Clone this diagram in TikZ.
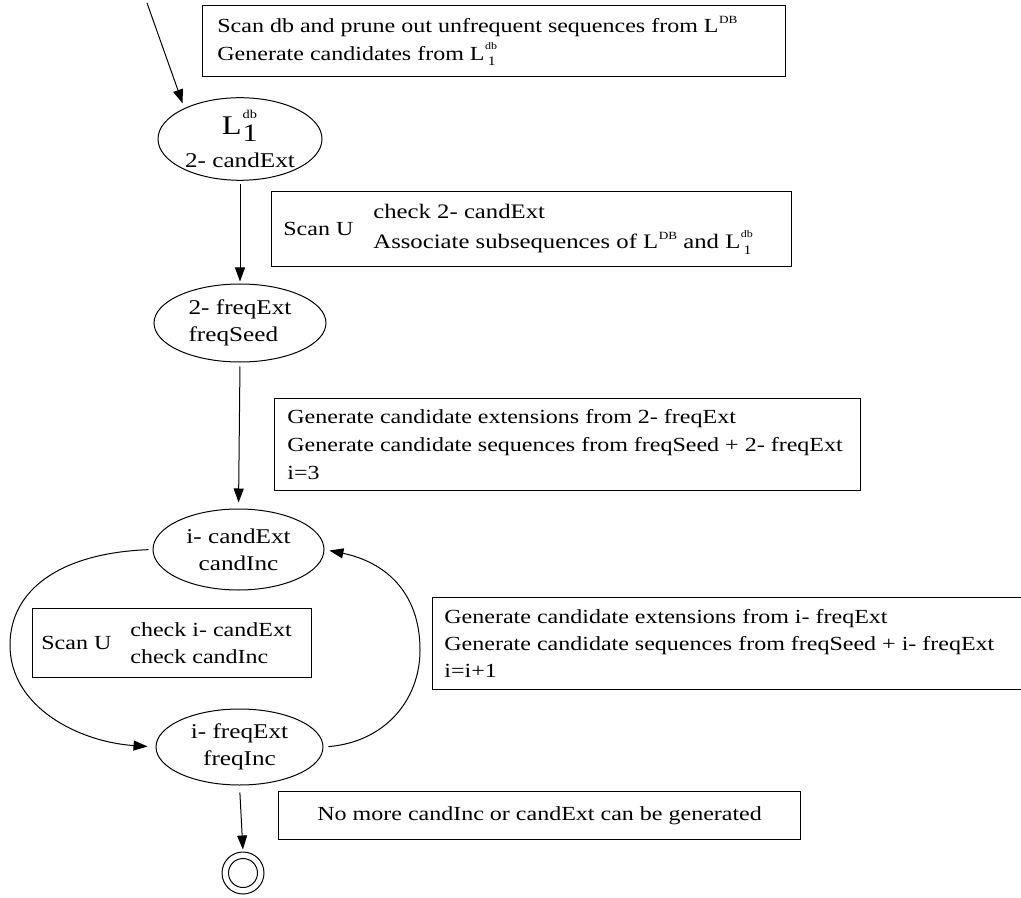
\documentclass[tikz,border=0pt]{standalone}
\usepackage{fontspec}
\setmainfont{Liberation Serif}[FakeStretch=1.2]
\usetikzlibrary{arrows.meta,shapes.geometric}
\newlength{\mysw}
\newcommand{\Lup}[1]{L\kern0.3pt\raisebox{0.95ex}{\fontsize{5.5pt}{5.5pt}\selectfont #1}}
\newcommand{\Lud}[2]{L\kern0.3pt\settowidth{\mysw}{\fontsize{5.5pt}{5.5pt}\selectfont #1}\rlap{\raisebox{1.15ex}{\fontsize{5pt}{5pt}\selectfont #1}}\makebox[\mysw][c]{\raisebox{-0.6ex}{\fontsize{6.5pt}{6.5pt}\selectfont #2}}}
\newcommand{\Lbig}{{\fontsize{13.5pt}{13.5pt}\selectfont L}\kern0.5pt\settowidth{\mysw}{\fontsize{13pt}{13pt}\selectfont 1}\rlap{\raisebox{1.75ex}{\fontsize{6pt}{6pt}\selectfont db}}\makebox[\mysw][l]{\raisebox{-3.5pt}{\fontsize{12.5pt}{12.5pt}\selectfont 1}}}
\begin{document}
\begin{tikzpicture}[x=0.5pt,y=-0.5pt,
  txt/.style={font=\fontsize{10pt}{14pt}\selectfont, align=left, inner sep=0pt},
  box/.style={draw, line width=0.6pt, anchor=north west, inner sep=0pt},
  st/.style={draw, ellipse, line width=0.5pt, inner sep=0pt, align=center,
     font=\fontsize{10.5pt}{13.5pt}\selectfont},
  arr/.style={-{Triangle[length=7pt,width=5pt]}, line width=0.5pt},
  fin/.style={draw, circle, line width=0.5pt, inner sep=0pt},
]
\useasboundingbox (0,0) rectangle (1021,898);

% states
\node[st, minimum width=82pt, minimum height=41pt] (e1) at (240,139) {\Lbig\\[3pt]2- candExt};
\node[st, minimum width=86pt, minimum height=39pt, align=left] (e2) at (240,323) {2- freqExt\\freqSeed};
\node[st, minimum width=85.5pt, minimum height=40.5pt] (e3) at (238.5,549.5) {i- candExt\\candInc};
\node[st, minimum width=83.5pt, minimum height=38pt] (e4) at (239.5,747) {i- freqExt\\freqInc};
\node[fin, minimum size=21pt] (end) at (243,873) {};
\node[fin, minimum size=14.5pt] (endin) at (end.center) {};

% boxes
\node[box, minimum width=291.5pt, minimum height=35.5pt] (b0) at (202,5) {};
\node[txt, anchor=west] (t0) at ([xshift=7.5pt]b0.west)
  {Scan db and prune out unfrequent sequences from \Lup{DB}\\Generate candidates from \Lud{db}{1}};

\node[box, minimum width=260pt, minimum height=37.5pt] (b1) at (271,191) {};
\node[txt, anchor=west] (t1a) at ([xshift=6pt]b1.west) {Scan U};
\node[txt, anchor=west, font=\fontsize{10.3pt}{15pt}\selectfont] (t1b) at ([xshift=51pt]b1.west)
  {check 2- candExt\\Associate subsequences of \Lup{DB} and \Lud{db}{1}};

\node[box, minimum width=293pt, minimum height=46pt] (b3) at (274,398) {};
\node[txt, anchor=west] (t3) at ([xshift=6.5pt]b3.west)
  {Generate candidate extensions from 2- freqExt\\Generate candidate sequences from freqSeed + 2- freqExt\\i=3};

\node[box, minimum width=139.5pt, minimum height=34.5pt] (b2) at (32,608) {};
\node[txt, anchor=west] (t2a) at ([xshift=4.5pt]b2.west) {Scan U};
\node[txt, anchor=west, font=\fontsize{10pt}{13.5pt}\selectfont] (t2b) at ([xshift=49pt]b2.west)
  {check i- candExt\\check candInc};

\node[box, minimum width=300pt, minimum height=46pt] (b4) at (432,597) {};
\node[txt, anchor=west, font=\fontsize{10pt}{13.5pt}\selectfont] (t4) at ([xshift=6pt]b4.west)
  {Generate candidate extensions from i- freqExt\\Generate candidate sequences from freqSeed + i- freqExt\\i=i+1};

\node[box, minimum width=261pt, minimum height=24pt] (b5) at (278,791) {};
\node[txt] (t5) at (b5.center) {No more candInc or candExt can be generated};

% connectors
\coordinate (in) at (147,3);
\draw[arr, shorten >=2.5pt] (in) -- (e1.151);
\draw[arr, shorten <=1.5pt, shorten >=1pt] (e1.south) -- (e2.north);
\draw[arr, shorten <=2pt, shorten >=3pt] (e2.south) -- (e3.north);
\draw[arr, shorten <=2pt, shorten >=4pt] (e3.west) .. controls (60,553) and (10,590) .. (10,645)
   .. controls (10,708) and (80,742) .. (e4.west);
\draw[arr, shorten <=2.5pt, shorten >=2.5pt] (e4.east) .. controls (385,742) and (420,700) .. (420,650)
   .. controls (420,592) and (385,562) .. (e3.east);
\draw[arr, shorten <=3.5pt, shorten >=1pt] (e4.south) -- (end.north);
\end{tikzpicture}
\end{document}
